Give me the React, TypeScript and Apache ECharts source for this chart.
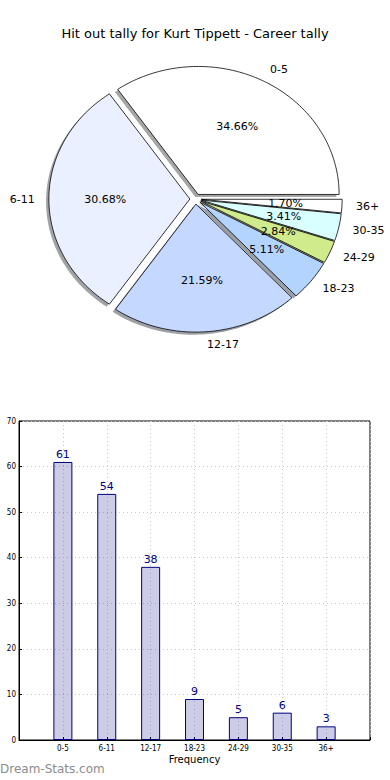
import React, { useEffect, useRef } from "react";
import * as echarts from "echarts";

const titleText = "Hit out tally for Kurt Tippett - Career tally";
const categories = ["0-5", "6-11", "12-17", "18-23", "24-29", "30-35", "36+"];
const frequencies = [61, 54, 38, 9, 5, 6, 3];
const sliceColors = ["#ffffff", "#eaf0ff", "#c5d8ff", "#b3d4ff", "#cfeb8c", "#d9ffff", "#ffffff"];
const yMin = 0;
const yMax = 70;
const yStep = 10;

const FONT = "DejaVu Sans, sans-serif";
const SMALL_FONT = "DejaVu Sans Condensed, DejaVu Sans, sans-serif";

function hexToRgb(h: string) {
  const n = parseInt(h.slice(1), 16);
  return [(n >> 16) & 255, (n >> 8) & 255, n & 255];
}

export default function App() {
  const ref = useRef<HTMLDivElement>(null);
  useEffect(() => {
    if (!ref.current) return;
    const chart = echarts.init(ref.current, undefined, { renderer: "svg" });
    const total = frequencies.reduce((a, b) => a + b, 0);
    // pie geometry (matplotlib-like elliptical pie)
    const cx = 195.5;
    const cy = 199;
    const rx = 141;
    const ry = 128;
    const explode = 0.04;
    const shadowDx = -2.8;
    const shadowDy = 2.6;

    const renderPie = (params: any, api: any) => {
      const i = params.dataIndex;
      const v = api.value(0);
      let before = 0;
      for (let k = 0; k < i; k++) before += frequencies[k];
      const a1 = (before / total) * 360;
      const a2 = ((before + v) / total) * 360;
      const mid = ((a1 + a2) / 2) * Math.PI / 180;
      const ox = explode * rx * Math.cos(mid);
      const oy = -explode * ry * Math.sin(mid);
      const vx = cx + ox;
      const vy = cy + oy;
      const pts: number[][] = [[vx, vy]];
      const steps = Math.max(2, Math.ceil(a2 - a1));
      for (let s = 0; s <= steps; s++) {
        const t = (a1 + ((a2 - a1) * s) / steps) * Math.PI / 180;
        pts.push([vx + rx * Math.cos(t), vy - ry * Math.sin(t)]);
      }
      const rgb = hexToRgb(sliceColors[i]);
      const shadowFill = `rgba(${Math.round(rgb[0] * 0.3)},${Math.round(rgb[1] * 0.3)},${Math.round(rgb[2] * 0.3)},0.5)`;
      const shadowPts = pts.map((p) => [p[0] + shadowDx, p[1] + shadowDy]);
      const cosm = Math.cos(mid);
      const sinm = Math.sin(mid);
      const pct = ((v / total) * 100).toFixed(2) + "%";
      return {
        type: "group",
        children: [
          { type: "polygon", z2: 1, shape: { points: shadowPts }, style: { fill: shadowFill, stroke: "none" } },
          { type: "polygon", z2: 10, shape: { points: pts }, style: { fill: sliceColors[i], stroke: "#000", lineWidth: 0.8 } },
          {
            type: "text", z2: 20,
            style: {
              text: categories[i],
              x: vx + 1.1 * rx * cosm,
              y: vy - 1.1 * ry * sinm,
              align: cosm > 0 ? "left" : "right",
              verticalAlign: "middle",
              fontSize: 11,
              fontFamily: FONT,
              fill: "#000",
            },
          },
          {
            type: "text", z2: 20,
            style: {
              text: pct,
              x: vx + 0.6 * rx * cosm,
              y: vy - 0.6 * ry * sinm,
              align: "center",
              verticalAlign: "middle",
              fontSize: 11,
              fontFamily: FONT,
              fill: "#000",
            },
          },
        ],
      };
    };

    chart.setOption({
      animation: false,
      title: {
        text: titleText,
        left: "center",
        top: 22,
        textStyle: { fontSize: 13, fontWeight: "normal", fontFamily: FONT, color: "#000" },
      },
      grid: {
        left: 19,
        right: 20,
        top: 421,
        bottom: 40,
        show: true,
        borderColor: "#000",
        borderWidth: 1,
        backgroundColor: "transparent",
      },
      xAxis: {
        type: "value",
        min: -1,
        max: categories.length,
        interval: 1,
        name: "Frequency",
        nameLocation: "middle",
        nameGap: 14,
        nameTextStyle: { fontSize: 10, fontFamily: FONT, color: "#000" },
        axisLine: { show: true, onZero: false, lineStyle: { color: "#000", width: 1 } },
        axisTick: { show: true, inside: true, length: 3, lineStyle: { color: "#000" } },
        axisLabel: {
          fontSize: 8,
          fontFamily: SMALL_FONT,
          color: "#000",
          margin: 4,
          formatter: (v: number) => (categories[v] !== undefined ? categories[v] : ""),
        },
        splitLine: { show: true, lineStyle: { color: "#c8c8c8", type: [1, 3], width: 1 } },
      },
      yAxis: {
        type: "value",
        min: yMin,
        max: yMax,
        interval: yStep,
        axisLine: { show: true, onZero: false, lineStyle: { color: "#000", width: 1 } },
        axisTick: { show: true, inside: true, length: 3, lineStyle: { color: "#000" } },
        axisLabel: {
          fontSize: 8,
          fontFamily: SMALL_FONT,
          color: "#000",
          margin: 3,
        },
        splitLine: { show: true, lineStyle: { color: "#c8c8c8", type: [1, 3], width: 1 } },
      },
      graphic: [
        {
          type: "text",
          left: 0,
          top: 763,
          style: { text: "Dream-Stats.com", fontSize: 12, fontWeight: "normal", fontFamily: FONT, fill: "#8c8c8c" },
        },
      ],
      series: [
        {
          type: "custom",
          coordinateSystem: "none",
          renderItem: renderPie,
          data: frequencies,
          silent: true,
        },
        {
          type: "bar",
          data: frequencies.map((f, i) => [i, f]),
          barWidth: 19,
          itemStyle: { color: "rgba(0,0,128,0.2)", borderColor: "#000080", borderWidth: 1 },
          label: {
            show: true,
            position: "top",
            distance: 2,
            color: "#000080",
            fontSize: 11,
            fontFamily: FONT,
          },
          z: 1,
        },
      ],
    });
    return () => chart.dispose();
  }, []);
  return (
    <div
      ref={ref}
      style={{ position: "absolute", left: 0, top: 0, width: 390, height: 780, background: "#fff" }}
    />
  );
}
